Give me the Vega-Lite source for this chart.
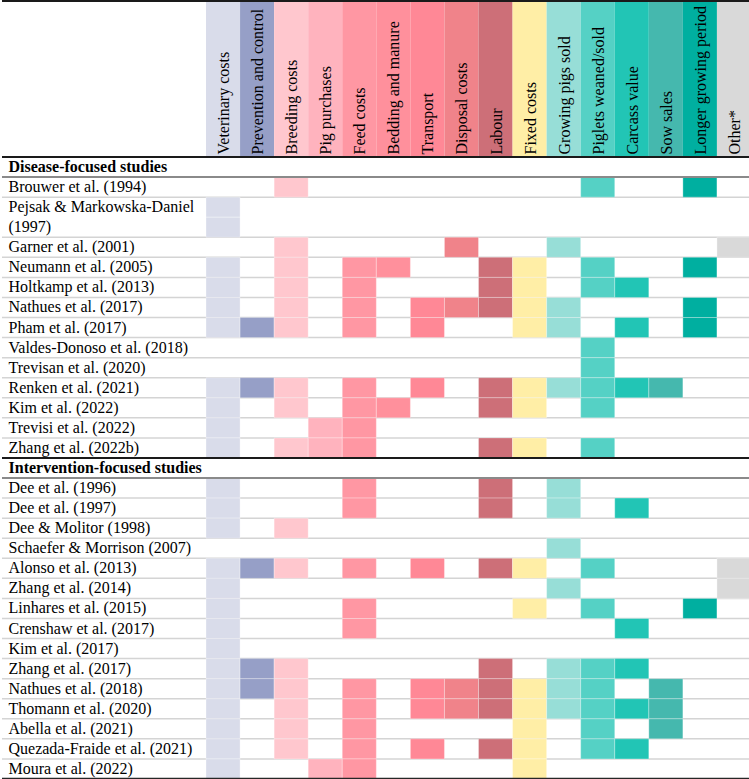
{
  "$schema": "https://vega.github.io/schema/vega-lite/v6.json",
  "padding": 0,
  "spacing": 0,
  "background": "white",
  "config": {
    "view": {"stroke": null},
    "font": "Liberation Serif",
    "axisY": {
      "orient": "left", "ticks": false, "domain": false, "grid": false, "title": null,
      "labelAlign": "left", "labelBaseline": "middle", "labelPadding": -6,
      "labelFont": "Liberation Serif", "labelFontSize": 16, "labelColor": "#000000",
      "labelLimit": 0, "labelOverlap": false, "labelBound": false, "labelFlush": false
    }
  },
  "datasets": {
    "costs": [
      {"cost": "Veterinary costs"}, {"cost": "Prevention and control"}, {"cost": "Breeding costs"}, {"cost": "Pig purchases"},
      {"cost": "Feed costs"}, {"cost": "Bedding and manure"}, {"cost": "Transport"}, {"cost": "Disposal costs"},
      {"cost": "Labour"}, {"cost": "Fixed costs"}, {"cost": "Growing pigs sold"}, {"cost": "Piglets weaned/sold"},
      {"cost": "Carcass value"}, {"cost": "Sow sales"}, {"cost": "Longer growing period"}, {"cost": "Other*"}
    ],
    "rows": [
      {"row": "Disease-focused studies", "kind": "section"},
      {"row": "Brouwer et al. (1994)", "kind": "study"},
      {"row": "Pejsak & Markowska-Daniel", "kind": "wrap"},
      {"row": "(1997)", "kind": "study"},
      {"row": "Garner et al. (2001)", "kind": "study"},
      {"row": "Neumann et al. (2005)", "kind": "study"},
      {"row": "Holtkamp et al. (2013)", "kind": "study"},
      {"row": "Nathues et al. (2017)", "kind": "study"},
      {"row": "Pham et al. (2017)", "kind": "study"},
      {"row": "Valdes-Donoso et al. (2018)", "kind": "study"},
      {"row": "Trevisan et al. (2020)", "kind": "study"},
      {"row": "Renken et al. (2021)", "kind": "study"},
      {"row": "Kim et al. (2022)", "kind": "study"},
      {"row": "Trevisi et al. (2022)", "kind": "study"},
      {"row": "Zhang et al. (2022b)", "kind": "study"},
      {"row": "Intervention-focused studies", "kind": "section"},
      {"row": "Dee et al. (1996)", "kind": "study"},
      {"row": "Dee et al. (1997)", "kind": "study"},
      {"row": "Dee & Molitor (1998)", "kind": "study"},
      {"row": "Schaefer & Morrison (2007)", "kind": "study"},
      {"row": "Alonso et al. (2013)", "kind": "study"},
      {"row": "Zhang et al. (2014)", "kind": "study"},
      {"row": "Linhares et al. (2015)", "kind": "study"},
      {"row": "Crenshaw et al. (2017)", "kind": "study"},
      {"row": "Kim et al. (2017)", "kind": "study"},
      {"row": "Zhang et al. (2017)", "kind": "study"},
      {"row": "Nathues et al. (2018)", "kind": "study"},
      {"row": "Thomann et al. (2020)", "kind": "study"},
      {"row": "Abella et al. (2021)", "kind": "study"},
      {"row": "Quezada-Fraide et al. (2021)", "kind": "study"},
      {"row": "Moura et al. (2022)", "kind": "study"}
    ],
    "cells": [
      {"row": "Brouwer et al. (1994)", "cost": "Breeding costs"},
      {"row": "Brouwer et al. (1994)", "cost": "Piglets weaned/sold"},
      {"row": "Brouwer et al. (1994)", "cost": "Longer growing period"},
      {"row": "Pejsak & Markowska-Daniel", "cost": "Veterinary costs"},
      {"row": "(1997)", "cost": "Veterinary costs"},
      {"row": "Garner et al. (2001)", "cost": "Breeding costs"},
      {"row": "Garner et al. (2001)", "cost": "Disposal costs"},
      {"row": "Garner et al. (2001)", "cost": "Growing pigs sold"},
      {"row": "Garner et al. (2001)", "cost": "Other*"},
      {"row": "Neumann et al. (2005)", "cost": "Veterinary costs"},
      {"row": "Neumann et al. (2005)", "cost": "Breeding costs"},
      {"row": "Neumann et al. (2005)", "cost": "Feed costs"},
      {"row": "Neumann et al. (2005)", "cost": "Bedding and manure"},
      {"row": "Neumann et al. (2005)", "cost": "Labour"},
      {"row": "Neumann et al. (2005)", "cost": "Fixed costs"},
      {"row": "Neumann et al. (2005)", "cost": "Piglets weaned/sold"},
      {"row": "Neumann et al. (2005)", "cost": "Longer growing period"},
      {"row": "Holtkamp et al. (2013)", "cost": "Veterinary costs"},
      {"row": "Holtkamp et al. (2013)", "cost": "Breeding costs"},
      {"row": "Holtkamp et al. (2013)", "cost": "Feed costs"},
      {"row": "Holtkamp et al. (2013)", "cost": "Labour"},
      {"row": "Holtkamp et al. (2013)", "cost": "Fixed costs"},
      {"row": "Holtkamp et al. (2013)", "cost": "Piglets weaned/sold"},
      {"row": "Holtkamp et al. (2013)", "cost": "Carcass value"},
      {"row": "Nathues et al. (2017)", "cost": "Veterinary costs"},
      {"row": "Nathues et al. (2017)", "cost": "Breeding costs"},
      {"row": "Nathues et al. (2017)", "cost": "Feed costs"},
      {"row": "Nathues et al. (2017)", "cost": "Transport"},
      {"row": "Nathues et al. (2017)", "cost": "Disposal costs"},
      {"row": "Nathues et al. (2017)", "cost": "Labour"},
      {"row": "Nathues et al. (2017)", "cost": "Fixed costs"},
      {"row": "Nathues et al. (2017)", "cost": "Growing pigs sold"},
      {"row": "Nathues et al. (2017)", "cost": "Longer growing period"},
      {"row": "Pham et al. (2017)", "cost": "Veterinary costs"},
      {"row": "Pham et al. (2017)", "cost": "Prevention and control"},
      {"row": "Pham et al. (2017)", "cost": "Breeding costs"},
      {"row": "Pham et al. (2017)", "cost": "Feed costs"},
      {"row": "Pham et al. (2017)", "cost": "Transport"},
      {"row": "Pham et al. (2017)", "cost": "Fixed costs"},
      {"row": "Pham et al. (2017)", "cost": "Growing pigs sold"},
      {"row": "Pham et al. (2017)", "cost": "Carcass value"},
      {"row": "Pham et al. (2017)", "cost": "Longer growing period"},
      {"row": "Valdes-Donoso et al. (2018)", "cost": "Piglets weaned/sold"},
      {"row": "Trevisan et al. (2020)", "cost": "Piglets weaned/sold"},
      {"row": "Renken et al. (2021)", "cost": "Veterinary costs"},
      {"row": "Renken et al. (2021)", "cost": "Prevention and control"},
      {"row": "Renken et al. (2021)", "cost": "Breeding costs"},
      {"row": "Renken et al. (2021)", "cost": "Feed costs"},
      {"row": "Renken et al. (2021)", "cost": "Transport"},
      {"row": "Renken et al. (2021)", "cost": "Labour"},
      {"row": "Renken et al. (2021)", "cost": "Fixed costs"},
      {"row": "Renken et al. (2021)", "cost": "Growing pigs sold"},
      {"row": "Renken et al. (2021)", "cost": "Piglets weaned/sold"},
      {"row": "Renken et al. (2021)", "cost": "Carcass value"},
      {"row": "Renken et al. (2021)", "cost": "Sow sales"},
      {"row": "Kim et al. (2022)", "cost": "Veterinary costs"},
      {"row": "Kim et al. (2022)", "cost": "Breeding costs"},
      {"row": "Kim et al. (2022)", "cost": "Feed costs"},
      {"row": "Kim et al. (2022)", "cost": "Bedding and manure"},
      {"row": "Kim et al. (2022)", "cost": "Labour"},
      {"row": "Kim et al. (2022)", "cost": "Fixed costs"},
      {"row": "Kim et al. (2022)", "cost": "Piglets weaned/sold"},
      {"row": "Trevisi et al. (2022)", "cost": "Veterinary costs"},
      {"row": "Trevisi et al. (2022)", "cost": "Pig purchases"},
      {"row": "Trevisi et al. (2022)", "cost": "Feed costs"},
      {"row": "Zhang et al. (2022b)", "cost": "Veterinary costs"},
      {"row": "Zhang et al. (2022b)", "cost": "Breeding costs"},
      {"row": "Zhang et al. (2022b)", "cost": "Pig purchases"},
      {"row": "Zhang et al. (2022b)", "cost": "Feed costs"},
      {"row": "Zhang et al. (2022b)", "cost": "Labour"},
      {"row": "Zhang et al. (2022b)", "cost": "Fixed costs"},
      {"row": "Zhang et al. (2022b)", "cost": "Piglets weaned/sold"},
      {"row": "Dee et al. (1996)", "cost": "Veterinary costs"},
      {"row": "Dee et al. (1996)", "cost": "Feed costs"},
      {"row": "Dee et al. (1996)", "cost": "Labour"},
      {"row": "Dee et al. (1996)", "cost": "Growing pigs sold"},
      {"row": "Dee et al. (1997)", "cost": "Veterinary costs"},
      {"row": "Dee et al. (1997)", "cost": "Feed costs"},
      {"row": "Dee et al. (1997)", "cost": "Labour"},
      {"row": "Dee et al. (1997)", "cost": "Growing pigs sold"},
      {"row": "Dee et al. (1997)", "cost": "Carcass value"},
      {"row": "Dee & Molitor (1998)", "cost": "Veterinary costs"},
      {"row": "Dee & Molitor (1998)", "cost": "Breeding costs"},
      {"row": "Schaefer & Morrison (2007)", "cost": "Growing pigs sold"},
      {"row": "Alonso et al. (2013)", "cost": "Veterinary costs"},
      {"row": "Alonso et al. (2013)", "cost": "Prevention and control"},
      {"row": "Alonso et al. (2013)", "cost": "Breeding costs"},
      {"row": "Alonso et al. (2013)", "cost": "Feed costs"},
      {"row": "Alonso et al. (2013)", "cost": "Transport"},
      {"row": "Alonso et al. (2013)", "cost": "Labour"},
      {"row": "Alonso et al. (2013)", "cost": "Fixed costs"},
      {"row": "Alonso et al. (2013)", "cost": "Piglets weaned/sold"},
      {"row": "Alonso et al. (2013)", "cost": "Other*"},
      {"row": "Zhang et al. (2014)", "cost": "Veterinary costs"},
      {"row": "Zhang et al. (2014)", "cost": "Growing pigs sold"},
      {"row": "Zhang et al. (2014)", "cost": "Other*"},
      {"row": "Linhares et al. (2015)", "cost": "Veterinary costs"},
      {"row": "Linhares et al. (2015)", "cost": "Feed costs"},
      {"row": "Linhares et al. (2015)", "cost": "Fixed costs"},
      {"row": "Linhares et al. (2015)", "cost": "Piglets weaned/sold"},
      {"row": "Linhares et al. (2015)", "cost": "Longer growing period"},
      {"row": "Crenshaw et al. (2017)", "cost": "Veterinary costs"},
      {"row": "Crenshaw et al. (2017)", "cost": "Feed costs"},
      {"row": "Crenshaw et al. (2017)", "cost": "Carcass value"},
      {"row": "Kim et al. (2017)", "cost": "Veterinary costs"},
      {"row": "Zhang et al. (2017)", "cost": "Veterinary costs"},
      {"row": "Zhang et al. (2017)", "cost": "Prevention and control"},
      {"row": "Zhang et al. (2017)", "cost": "Breeding costs"},
      {"row": "Zhang et al. (2017)", "cost": "Labour"},
      {"row": "Zhang et al. (2017)", "cost": "Growing pigs sold"},
      {"row": "Zhang et al. (2017)", "cost": "Piglets weaned/sold"},
      {"row": "Zhang et al. (2017)", "cost": "Carcass value"},
      {"row": "Nathues et al. (2018)", "cost": "Veterinary costs"},
      {"row": "Nathues et al. (2018)", "cost": "Prevention and control"},
      {"row": "Nathues et al. (2018)", "cost": "Breeding costs"},
      {"row": "Nathues et al. (2018)", "cost": "Feed costs"},
      {"row": "Nathues et al. (2018)", "cost": "Transport"},
      {"row": "Nathues et al. (2018)", "cost": "Disposal costs"},
      {"row": "Nathues et al. (2018)", "cost": "Labour"},
      {"row": "Nathues et al. (2018)", "cost": "Fixed costs"},
      {"row": "Nathues et al. (2018)", "cost": "Growing pigs sold"},
      {"row": "Nathues et al. (2018)", "cost": "Piglets weaned/sold"},
      {"row": "Nathues et al. (2018)", "cost": "Sow sales"},
      {"row": "Thomann et al. (2020)", "cost": "Veterinary costs"},
      {"row": "Thomann et al. (2020)", "cost": "Breeding costs"},
      {"row": "Thomann et al. (2020)", "cost": "Feed costs"},
      {"row": "Thomann et al. (2020)", "cost": "Transport"},
      {"row": "Thomann et al. (2020)", "cost": "Disposal costs"},
      {"row": "Thomann et al. (2020)", "cost": "Labour"},
      {"row": "Thomann et al. (2020)", "cost": "Fixed costs"},
      {"row": "Thomann et al. (2020)", "cost": "Growing pigs sold"},
      {"row": "Thomann et al. (2020)", "cost": "Piglets weaned/sold"},
      {"row": "Thomann et al. (2020)", "cost": "Carcass value"},
      {"row": "Thomann et al. (2020)", "cost": "Sow sales"},
      {"row": "Abella et al. (2021)", "cost": "Veterinary costs"},
      {"row": "Abella et al. (2021)", "cost": "Breeding costs"},
      {"row": "Abella et al. (2021)", "cost": "Feed costs"},
      {"row": "Abella et al. (2021)", "cost": "Fixed costs"},
      {"row": "Abella et al. (2021)", "cost": "Piglets weaned/sold"},
      {"row": "Abella et al. (2021)", "cost": "Sow sales"},
      {"row": "Quezada-Fraide et al. (2021)", "cost": "Veterinary costs"},
      {"row": "Quezada-Fraide et al. (2021)", "cost": "Breeding costs"},
      {"row": "Quezada-Fraide et al. (2021)", "cost": "Feed costs"},
      {"row": "Quezada-Fraide et al. (2021)", "cost": "Transport"},
      {"row": "Quezada-Fraide et al. (2021)", "cost": "Labour"},
      {"row": "Quezada-Fraide et al. (2021)", "cost": "Fixed costs"},
      {"row": "Quezada-Fraide et al. (2021)", "cost": "Piglets weaned/sold"},
      {"row": "Quezada-Fraide et al. (2021)", "cost": "Carcass value"},
      {"row": "Moura et al. (2022)", "cost": "Veterinary costs"},
      {"row": "Moura et al. (2022)", "cost": "Pig purchases"},
      {"row": "Moura et al. (2022)", "cost": "Feed costs"},
      {"row": "Moura et al. (2022)", "cost": "Fixed costs"}
    ]
  },
  "vconcat": [
    {
      "width": 749,
      "height": 155,
      "data": {"name": "costs"},
      "layer": [
        {
          "mark": {"type": "rect"},
          "encoding": {
            "x": {
              "field": "cost", "type": "nominal", "title": null,
              "scale": {
                "domain": ["Veterinary costs", "Prevention and control", "Breeding costs", "Pig purchases", "Feed costs", "Bedding and manure", "Transport", "Disposal costs", "Labour", "Fixed costs", "Growing pigs sold", "Piglets weaned/sold", "Carcass value", "Sow sales", "Longer growing period", "Other*"],
                "range": [204, 749], "paddingInner": 0, "paddingOuter": 0
              },
              "axis": {
                "orient": "bottom", "ticks": false, "domain": false, "grid": false,
                "labelAngle": 270, "labelAlign": "left", "labelBaseline": "middle",
                "labelPadding": -2, "labelOffset": 1, "labelFont": "Liberation Serif", "labelFontSize": 16,
                "labelColor": "#000000", "labelLimit": 0, "labelOverlap": false, "labelBound": false, "labelFlush": false
              }
            },
            "color": {
              "field": "cost", "type": "nominal", "legend": null,
              "scale": {
                "domain": ["Veterinary costs", "Prevention and control", "Breeding costs", "Pig purchases", "Feed costs", "Bedding and manure", "Transport", "Disposal costs", "Labour", "Fixed costs", "Growing pigs sold", "Piglets weaned/sold", "Carcass value", "Sow sales", "Longer growing period", "Other*"],
                "range": ["#D9DCEA", "#969FC7", "#FFC7CE", "#FFB3BE", "#FF97A3", "#FF909C", "#FF8896", "#F0838A", "#CD6F78", "#FFEEA6", "#97DED7", "#55D1C5", "#22C5B5", "#45B8AE", "#00AFA0", "#D9D9D9"]
              }
            }
          }
        },
        {
          "data": {"values": [{}]},
          "mark": {"type": "rule", "color": "#1a1a1a", "strokeWidth": 2},
          "encoding": {
            "y": {"datum": 1, "type": "quantitative", "scale": {"domain": [0, 1]}, "axis": null}
          }
        }
      ]
    },
    {
      "width": 749,
      "height": 622,
      "layer": [
        {
          "data": {"name": "rows"},
          "transform": [{"filter": "datum.kind === 'study'"}],
          "mark": {"type": "rule", "color": "#d4d4d4", "strokeWidth": 1.5},
          "encoding": {
            "y": {
              "field": "row", "type": "nominal", "title": null, "bandPosition": 1,
              "scale": {
                "domain": ["Disease-focused studies", "Brouwer et al. (1994)", "Pejsak & Markowska-Daniel", "(1997)", "Garner et al. (2001)", "Neumann et al. (2005)", "Holtkamp et al. (2013)", "Nathues et al. (2017)", "Pham et al. (2017)", "Valdes-Donoso et al. (2018)", "Trevisan et al. (2020)", "Renken et al. (2021)", "Kim et al. (2022)", "Trevisi et al. (2022)", "Zhang et al. (2022b)", "Intervention-focused studies", "Dee et al. (1996)", "Dee et al. (1997)", "Dee & Molitor (1998)", "Schaefer & Morrison (2007)", "Alonso et al. (2013)", "Zhang et al. (2014)", "Linhares et al. (2015)", "Crenshaw et al. (2017)", "Kim et al. (2017)", "Zhang et al. (2017)", "Nathues et al. (2018)", "Thomann et al. (2020)", "Abella et al. (2021)", "Quezada-Fraide et al. (2021)", "Moura et al. (2022)"],
                "paddingInner": 0, "paddingOuter": 0
              }
            }
          }
        },
        {
          "data": {"name": "cells"},
          "mark": {"type": "rect", "stroke": "#ffffff", "strokeWidth": 1, "strokeOpacity": 0.3},
          "encoding": {
            "x": {
              "field": "cost", "type": "nominal", "title": null, "axis": null,
              "scale": {
                "domain": ["Veterinary costs", "Prevention and control", "Breeding costs", "Pig purchases", "Feed costs", "Bedding and manure", "Transport", "Disposal costs", "Labour", "Fixed costs", "Growing pigs sold", "Piglets weaned/sold", "Carcass value", "Sow sales", "Longer growing period", "Other*"],
                "range": [204, 749], "paddingInner": 0, "paddingOuter": 0
              }
            },
            "y": {
              "field": "row", "type": "nominal", "title": null,
              "scale": {
                "domain": ["Disease-focused studies", "Brouwer et al. (1994)", "Pejsak & Markowska-Daniel", "(1997)", "Garner et al. (2001)", "Neumann et al. (2005)", "Holtkamp et al. (2013)", "Nathues et al. (2017)", "Pham et al. (2017)", "Valdes-Donoso et al. (2018)", "Trevisan et al. (2020)", "Renken et al. (2021)", "Kim et al. (2022)", "Trevisi et al. (2022)", "Zhang et al. (2022b)", "Intervention-focused studies", "Dee et al. (1996)", "Dee et al. (1997)", "Dee & Molitor (1998)", "Schaefer & Morrison (2007)", "Alonso et al. (2013)", "Zhang et al. (2014)", "Linhares et al. (2015)", "Crenshaw et al. (2017)", "Kim et al. (2017)", "Zhang et al. (2017)", "Nathues et al. (2018)", "Thomann et al. (2020)", "Abella et al. (2021)", "Quezada-Fraide et al. (2021)", "Moura et al. (2022)"],
                "paddingInner": 0, "paddingOuter": 0
              },
              "axis": {
                "labelFontWeight": {
                  "condition": {"test": "datum.value === 'Disease-focused studies' || datum.value === 'Intervention-focused studies'", "value": "bold"},
                  "value": "normal"
                }
              }
            },
            "color": {
              "field": "cost", "type": "nominal", "legend": null,
              "scale": {
                "domain": ["Veterinary costs", "Prevention and control", "Breeding costs", "Pig purchases", "Feed costs", "Bedding and manure", "Transport", "Disposal costs", "Labour", "Fixed costs", "Growing pigs sold", "Piglets weaned/sold", "Carcass value", "Sow sales", "Longer growing period", "Other*"],
                "range": ["#D9DCEA", "#969FC7", "#FFC7CE", "#FFB3BE", "#FF97A3", "#FF909C", "#FF8896", "#F0838A", "#CD6F78", "#FFEEA6", "#97DED7", "#55D1C5", "#22C5B5", "#45B8AE", "#00AFA0", "#D9D9D9"]
              }
            }
          }
        },
        {
          "data": {"name": "rows"},
          "transform": [{"filter": "datum.kind === 'section'"}],
          "mark": {"type": "rule", "color": "#8a8a8a", "strokeWidth": 2},
          "encoding": {
            "y": {
              "field": "row", "type": "nominal", "title": null, "bandPosition": 1,
              "scale": {
                "domain": ["Disease-focused studies", "Brouwer et al. (1994)", "Pejsak & Markowska-Daniel", "(1997)", "Garner et al. (2001)", "Neumann et al. (2005)", "Holtkamp et al. (2013)", "Nathues et al. (2017)", "Pham et al. (2017)", "Valdes-Donoso et al. (2018)", "Trevisan et al. (2020)", "Renken et al. (2021)", "Kim et al. (2022)", "Trevisi et al. (2022)", "Zhang et al. (2022b)", "Intervention-focused studies", "Dee et al. (1996)", "Dee et al. (1997)", "Dee & Molitor (1998)", "Schaefer & Morrison (2007)", "Alonso et al. (2013)", "Zhang et al. (2014)", "Linhares et al. (2015)", "Crenshaw et al. (2017)", "Kim et al. (2017)", "Zhang et al. (2017)", "Nathues et al. (2018)", "Thomann et al. (2020)", "Abella et al. (2021)", "Quezada-Fraide et al. (2021)", "Moura et al. (2022)"],
                "paddingInner": 0, "paddingOuter": 0
              }
            }
          }
        },
        {
          "data": {"name": "rows"},
          "transform": [{"filter": "datum.kind === 'section'"}],
          "mark": {"type": "rule", "color": "#1a1a1a", "strokeWidth": 2},
          "encoding": {
            "y": {
              "field": "row", "type": "nominal", "title": null, "bandPosition": 0,
              "scale": {
                "domain": ["Disease-focused studies", "Brouwer et al. (1994)", "Pejsak & Markowska-Daniel", "(1997)", "Garner et al. (2001)", "Neumann et al. (2005)", "Holtkamp et al. (2013)", "Nathues et al. (2017)", "Pham et al. (2017)", "Valdes-Donoso et al. (2018)", "Trevisan et al. (2020)", "Renken et al. (2021)", "Kim et al. (2022)", "Trevisi et al. (2022)", "Zhang et al. (2022b)", "Intervention-focused studies", "Dee et al. (1996)", "Dee et al. (1997)", "Dee & Molitor (1998)", "Schaefer & Morrison (2007)", "Alonso et al. (2013)", "Zhang et al. (2014)", "Linhares et al. (2015)", "Crenshaw et al. (2017)", "Kim et al. (2017)", "Zhang et al. (2017)", "Nathues et al. (2018)", "Thomann et al. (2020)", "Abella et al. (2021)", "Quezada-Fraide et al. (2021)", "Moura et al. (2022)"],
                "paddingInner": 0, "paddingOuter": 0
              }
            }
          }
        },
        {
          "data": {"name": "rows"},
          "transform": [{"filter": "datum.row === 'Moura et al. (2022)'"}],
          "mark": {"type": "rule", "color": "#262626", "strokeWidth": 2.5},
          "encoding": {
            "y": {
              "field": "row", "type": "nominal", "title": null, "bandPosition": 1,
              "scale": {
                "domain": ["Disease-focused studies", "Brouwer et al. (1994)", "Pejsak & Markowska-Daniel", "(1997)", "Garner et al. (2001)", "Neumann et al. (2005)", "Holtkamp et al. (2013)", "Nathues et al. (2017)", "Pham et al. (2017)", "Valdes-Donoso et al. (2018)", "Trevisan et al. (2020)", "Renken et al. (2021)", "Kim et al. (2022)", "Trevisi et al. (2022)", "Zhang et al. (2022b)", "Intervention-focused studies", "Dee et al. (1996)", "Dee et al. (1997)", "Dee & Molitor (1998)", "Schaefer & Morrison (2007)", "Alonso et al. (2013)", "Zhang et al. (2014)", "Linhares et al. (2015)", "Crenshaw et al. (2017)", "Kim et al. (2017)", "Zhang et al. (2017)", "Nathues et al. (2018)", "Thomann et al. (2020)", "Abella et al. (2021)", "Quezada-Fraide et al. (2021)", "Moura et al. (2022)"],
                "paddingInner": 0, "paddingOuter": 0
              }
            }
          }
        }
      ]
    }
  ]
}
